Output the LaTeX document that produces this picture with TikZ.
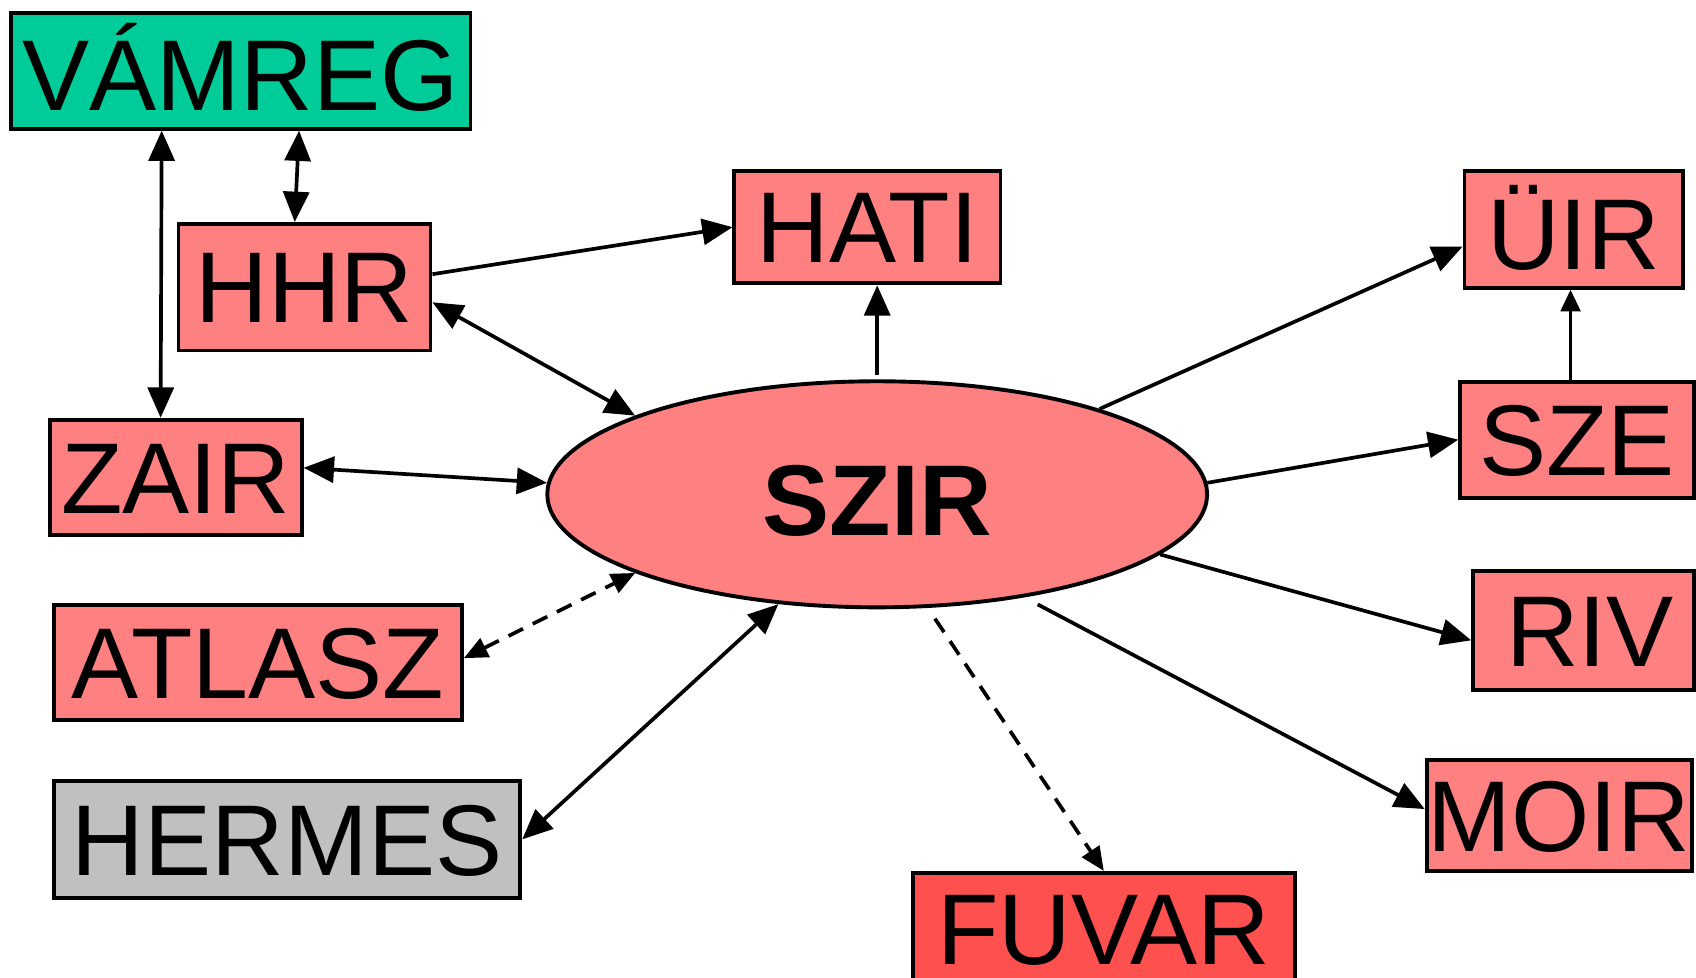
\documentclass[tikz,border=0pt]{standalone}
\usepackage{fontspec}
\setmainfont{Liberation Sans}
\usetikzlibrary{shapes.geometric,arrows.meta}
\definecolor{lred}{RGB}{255,128,128}
\definecolor{dred}{RGB}{255,80,80}
\definecolor{vgreen}{RGB}{0,204,153}
\definecolor{lgray}{RGB}{192,192,192}
\begin{document}
\begin{tikzpicture}[x=1pt,y=-1pt,
  box/.style={draw=black, line width=3.6pt, inner sep=0pt, text height=66pt, text depth=0pt,
    font=\fontsize{93}{93}\selectfont, fill=lred},
  link/.style={line width=3.4pt, -{Triangle[length=28pt,width=24pt]}},
  both/.style={line width=3.4pt, {Triangle[length=28pt,width=24pt]}-{Triangle[length=28pt,width=24pt]}},
  dlink/.style={line width=3.4pt, dash pattern=on 15pt off 10pt, -{Triangle[length=22pt,width=19pt]}},
  dboth/.style={line width=3.4pt, dash pattern=on 15pt off 10pt, {Triangle[length=22pt,width=19pt]}-{Triangle[length=22pt,width=19pt]}}
]
\useasboundingbox (0,0) rectangle (1568,904);
\node[box, fill=vgreen, minimum width=425pt, minimum height=107pt] (vamreg) at (222.5,65.5) {\raisebox{-4pt}{VÁMREG}};
\node[box, minimum width=233pt, minimum height=117pt] (hhr) at (281.5,265.5) {HHR};
\node[box, minimum width=246pt, minimum height=104pt] (hati) at (802,210) {HATI};
\node[box, minimum width=202pt, minimum height=108pt] (uir) at (1455,212) {\raisebox{-4pt}{ÜIR}};
\node[box, minimum width=233pt, minimum height=107pt] (zair) at (162.5,441.5) {ZAIR};
\node[box, minimum width=216pt, minimum height=107pt] (sze) at (1458,406.5) {SZE};
\node[box, minimum width=377pt, minimum height=107pt] (atlasz) at (238.5,612.5) {ATLASZ};
\node[box, minimum width=204pt, minimum height=110pt] (riv) at (1464,583) {\hspace*{12pt}RIV};
\node[box, fill=lgray, minimum width=431pt, minimum height=108pt] (hermes) at (265.5,776) {HERMES};
\node[box, minimum width=245pt, minimum height=102pt] (moir) at (1441.5,754) {MOIR};
\node[box, fill=dred, minimum width=353pt, minimum height=107pt] (fuvar) at (1020.5,860.5) {\raisebox{2pt}{FUVAR}};
\node[ellipse, draw=black, line width=3.6pt, fill=lred, inner sep=0pt, minimum width=610pt, minimum height=209pt,
  text height=66pt, text depth=0pt, font=\fontsize{93}{93}\selectfont\bfseries] (szir) at (811,457) {\raisebox{-5pt}{SZIR}};

\draw[both] ([xshift=-73pt]vamreg.south) -- ([xshift=-14pt]zair.north);
\draw[both] ([xshift=54pt]vamreg.south) -- ([xshift=-9pt]hhr.north);
\draw[link] ([yshift=12pt]hhr.east) -- (hati.west);
\draw[both] ([yshift=-14pt]hhr.east) -- (szir.162);
\draw[link] ([yshift=4pt]szir.north) -- (szir.north |- hati.south);
\draw[both] ([yshift=9pt]zair.east) -- (szir.178);
\draw[dboth] ([yshift=4pt]atlasz.east) -- (szir.198.7);
\draw[both] (hermes.east) -- (szir.228);
\draw[dlink, shorten <=12pt] (szir.-66) -- (fuvar.north);
\draw[link] (szir.21.4) -- ([yshift=-16pt]uir.west);
\draw[line width=3.4pt, -{Triangle[length=20pt,width=18pt]}] ([xshift=-6pt]sze.north) -- ([xshift=-3pt]uir.south);
\draw[link] (szir.2) -- (sze.west);
\draw[link] (szir.-12.1) -- ([yshift=-9pt]riv.west);
\draw[link, shorten <=14pt] (szir.-35.8) -- ([yshift=6pt]moir.west);
\end{tikzpicture}
\end{document}
